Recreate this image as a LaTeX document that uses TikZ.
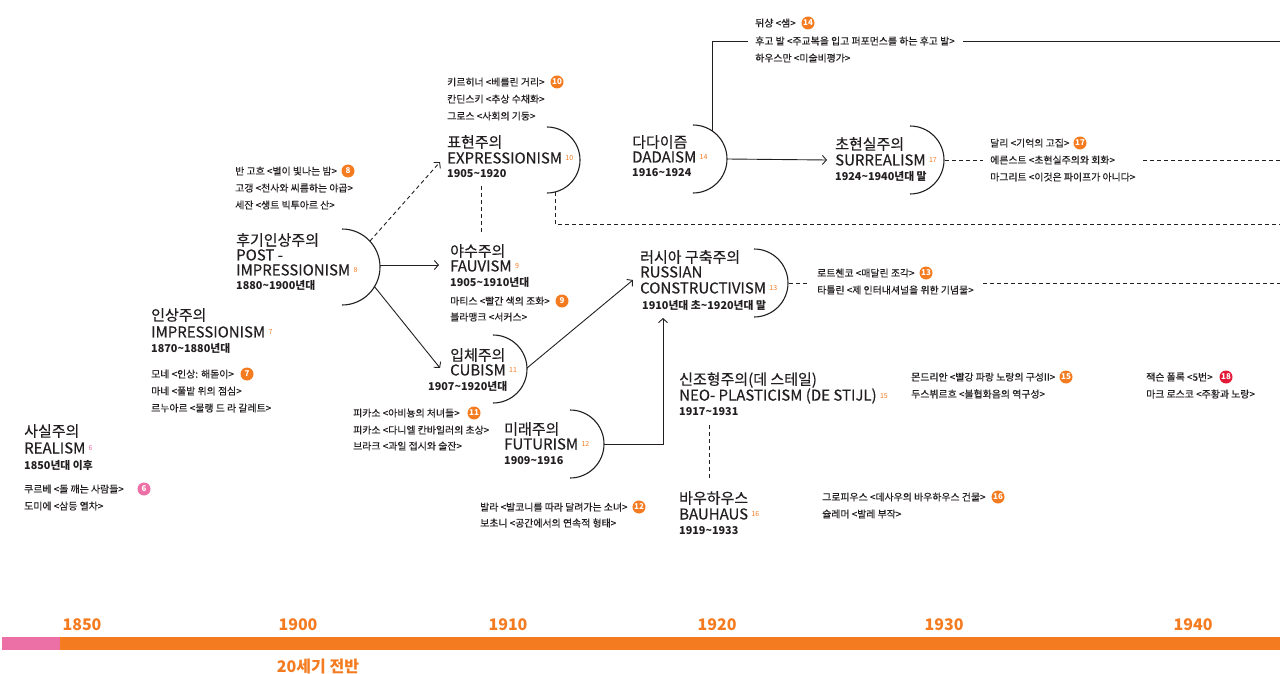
\documentclass[tikz,border=0pt]{standalone}
\usepackage{fontspec}
\setmainfont{Noto Sans CJK KR}
\newfontfamily\medfont{Noto Sans CJK KR}[FakeBold=0.35]
\usetikzlibrary{arrows.meta, positioning}
\definecolor{ink}{HTML}{231F20}
\definecolor{orng}{HTML}{F47B20}
\definecolor{pnk}{HTML}{EC6FA6}
\definecolor{redc}{HTML}{E31937}
\newcommand{\ts}{\textasciitilde}

\begin{document}
\begin{tikzpicture}[
        x=1pt, y=-1pt,
        ttl/.style={anchor=west, inner sep=0pt, text=ink, font=\medfont\fontsize{15}{15}\selectfont},
        yr/.style={anchor=west, inner sep=0pt, text=ink, font=\fontsize{10.8}{11}\selectfont\bfseries},
        work/.style={anchor=west, inner sep=0pt, text=ink, font=\medfont\fontsize{9.9}{9.9}\selectfont},
        refn/.style={right=3pt of #1, inner sep=0pt, text=orng, font=\fontsize{7}{7}\selectfont},
        badge/.style={circle, fill=orng, inner sep=0pt, minimum size=13pt, text=white, font=\fontsize{8}{8}\selectfont\bfseries},
        arcline/.style={draw=ink, line width=1.1pt},
        conn/.style={draw=ink, line width=0.9pt},
        arr/.style={conn, -{Straight Barb[length=4pt, width=9pt]}},
        dconn/.style={conn, dash pattern=on 4pt off 3pt},
        yearlbl/.style={inner sep=0pt, text=orng, font=\fontsize{16}{16}\selectfont\bfseries}
    ]
        \useasboundingbox (0,0) rectangle (1280,674);

        % Realism
        \node[ttl] (realko) at (24,431) {사실주의};
        \node[ttl] (realen) at (24,448) {REALISM};
        \node[refn=realen, text=pnk] (realn) {6};
        \node[yr] (realyr) at (24,465) {1850년대 이후};
        \node[work] (courbet) at (24,489) {쿠르베 <돌 깨는 사람들>};
        \node[badge, fill=pnk] (realb) at (144,489) {6};
        \node[work] (daumier) at (24,506) {도미에 <삼등 열차>};

        % Impressionism
        \node[ttl] (imprko) at (151,315) {인상주의};
        \node[ttl] (impren) at (151,332) {IMPRESSIONISM};
        \node[refn=impren] (imprn) {7};
        \node[yr] (impryr) at (151,348) {1870\ts1880년대};
        \node[work] (monet) at (151,374) {모네 <인상: 해돋이>};
        \node[badge] (imprb) at (247,374) {7};
        \node[work] (manet) at (151,391) {마네 <풀밭 위의 점심>};
        \node[work] (renoir) at (151,408) {르누아르 <물랭 드 라 갈레트>};

        % Post-impressionism
        \node[work] (gogh) at (235,171) {반 고흐 <별이 빛나는 밤>};
        \node[badge] (postb) at (348,171) {8};
        \node[work] (gauguin) at (235,188) {고갱 <천사와 씨름하는 야곱>};
        \node[work] (cezanne) at (235,205) {세잔 <생트 빅투아르 산>};
        \node[ttl] (postko) at (236,240) {후기인상주의};
        \node[ttl] (posten) at (236,255) {POST -};
        \node[ttl] (posten2) at (236,270) {IMPRESSIONISM};
        \node[refn=posten2] (postn) {8};
        \node[yr] (postyr) at (236,285) {1880\ts1900년대};
        \draw[arcline] (342,305) arc[start angle=-90, end angle=90, radius=38pt];
        \coordinate (post-ne) at (370,241);
        \coordinate (post-e) at (380,265);
        \coordinate (post-se) at (374,286);

        % Expressionism
        \node[work] (kirchner) at (447,82) {키르히너 <베를린 거리>};
        \node[badge] (exprb) at (557,82) {10};
        \node[work] (kandinsky) at (447,99) {칸딘스키 <추상 수채화>};
        \node[work] (grosz) at (447,116) {그로스 <사회의 기둥>};
        \node[ttl] (exprko) at (447,142) {표현주의};
        \node[ttl] (expren) at (447,158) {EXPRESSIONISM};
        \node[refn=expren] (exprn) {10};
        \node[yr] (expryr) at (447,174) {1905\ts1920};
        \draw[arcline] (547,193) arc[start angle=-90, end angle=90, radius=33pt];
        \coordinate (expr-in) at (440,162);
        \coordinate (expr-s) at (555,192);
        \coordinate (expr-sw) at (555,224);
        \coordinate (expr-out) at (1280,224);
        \coordinate (expr-down) at (481,186);

        % Fauvism
        \node[ttl] (fauvko) at (450,251) {야수주의};
        \node[ttl] (fauven) at (450,266) {FAUVISM};
        \node[refn=fauven] (fauvn) {9};
        \node[yr] (fauvyr) at (450,282) {1905\ts1910년대};
        \node[work] (matisse) at (450,301) {마티스 <빨간 색의 조화>};
        \node[badge] (fauvb) at (562,301) {9};
        \node[work] (vlaminck) at (450,317) {블라맹크 <서커스>};
        \coordinate (fauv-up) at (481,234);
        \coordinate (fauv-in) at (439,265);

        % Cubism
        \node[ttl] (cubko) at (450,355) {입체주의};
        \node[ttl] (cuben) at (450,370) {CUBISM};
        \node[refn=cuben] (cubn) {11};
        \node[yr] (cubyr) at (428,386) {1907\ts1920년대};
        \draw[arcline] (493,403) arc[start angle=-90, end angle=90, radius=34pt];
        \coordinate (cub-in) at (440,368);
        \coordinate (cub-e) at (527,368);
        \node[work] (picasso1) at (353,413) {피카소 <아비뇽의 처녀들>};
        \node[badge] (cubb) at (474,413) {11};
        \node[work] (picasso2) at (353,430) {피카소 <다니엘 칸바일러의 초상>};
        \node[work] (braque) at (353,446) {브라크 <과일 접시와 술잔>};

        % Futurism
        \node[ttl] (futko) at (504,429) {미래주의};
        \node[ttl] (futen) at (504,444) {FUTURISM};
        \node[refn=futen] (futn) {12};
        \node[yr] (futyr) at (504,461) {1909\ts1916};
        \draw[arcline] (570,478) arc[start angle=-90, end angle=90, radius=34pt];
        \coordinate (fut-e) at (604,444);
        \coordinate (fut-turn) at (663,444);
        \node[work] (balla) at (480,507) {발라 <발코니를 따라 달려가는 소녀>};
        \node[badge] (futb) at (639,507) {12};
        \node[work] (boccioni) at (480,523) {보초니 <공간에서의 연속적 형태>};

        % Russian constructivism
        \node[ttl] (russko) at (640,257) {러시아 구축주의};
        \node[ttl] (russen) at (640,272) {RUSSIAN};
        \node[ttl] (russen2) at (640,288) {CONSTRUCTIVISM};
        \node[refn=russen2] (russn) {13};
        \node[yr] (russyr) at (642,305) {1910년대 초\ts1920년대 말};
        \draw[arcline] (754,317) arc[start angle=-90, end angle=90, radius=34pt];
        \coordinate (russ-in) at (633,280);
        \coordinate (russ-bot) at (663,318);
        \coordinate (russ-e) at (789,283);
        \coordinate (russ-dash) at (809,283);
        \node[work] (rodchenko) at (817,273) {로트첸코 <매달린 조각>};
        \node[badge] (russb) at (926,273) {13};
        \node[work] (tatlin) at (817,290) {타틀린 <제 인터내셔널을 위한 기념물>};
        \coordinate (russ-dash2) at (983,283);
        \coordinate (russ-out) at (1280,283);

        % Dadaism
        \node[ttl] (dadako) at (632,142) {다다이즘};
        \node[ttl] (dadaen) at (632,157) {DADAISM};
        \node[refn=dadaen] (dadan) {14};
        \node[yr] (dadayr) at (632,173) {1916\ts1924};
        \draw[arcline] (693,193) arc[start angle=-90, end angle=90, radius=34pt];
        \coordinate (dada-top) at (712,131);
        \coordinate (dada-e) at (727,159);
        \node[work] (duchamp) at (755,23) {뒤샹 <샘>};
        \node[badge] (dadab) at (808,23) {14};
        \node[work] (ball) at (755,41) {후고 발 <주교복을 입고 퍼포먼스를 하는 후고 발>};
        \node[work] (hausmann) at (755,58) {하우스만 <미술비평가>};
        \coordinate (ball-in) at (748,41);
        \coordinate (ball-out) at (963,41);
        \coordinate (dada-out) at (1280,41);

        % Surrealism
        \node[ttl] (surrko) at (835,144) {초현실주의};
        \node[ttl] (surren) at (835,160) {SURREALISM};
        \node[refn=surren] (surrn) {17};
        \node[yr] (surryr) at (835,176) {1924\ts1940년대 말};
        \draw[arcline] (910,194) arc[start angle=-90, end angle=90, radius=34pt];
        \coordinate (surr-in) at (827,160);
        \coordinate (surr-e) at (945,160);
        \coordinate (surr-dash) at (983,160);
        \node[work] (dali) at (990,143) {달리 <기억의 고집>};
        \node[badge] (surrb) at (1080,143) {17};
        \node[work] (ernst) at (990,160) {에른스트 <초현실주의와 회화>};
        \node[work] (magritte) at (990,177) {마그리트 <이것은 파이프가 아니다>};
        \coordinate (surr-dash2) at (1143,160);
        \coordinate (surr-out) at (1280,160);

        % Neo-plasticism and Bauhaus
        \node[ttl] (neoko) at (679,380) {신조형주의(데 스테일)};
        \node[ttl] (neoen) at (679,396) {NEO- PLASTICISM (DE STIJL)};
        \node[refn=neoen] (neon) {15};
        \node[yr] (neoyr) at (679,412) {1917\ts1931};
        \coordinate (neo-down) at (709,425);
        \node[work] (mondrian) at (911,377) {몬드리안 <빨강 파랑 노랑의 구성II>};
        \node[badge] (neob) at (1066,377) {15};
        \node[work] (doesburg) at (911,394) {두스뷔르흐 <불협화음의 역구성>};
        \node[work] (pollock) at (1146,377) {잭슨 폴록 <5번>};
        \node[badge, fill=redc] (absb) at (1226,377) {18};
        \node[work] (rothko) at (1146,394) {마크 로스코 <주황과 노랑>};
        \node[ttl] (bauko) at (679,498) {바우하우스};
        \node[ttl] (bauen) at (679,514) {BAUHAUS};
        \node[refn=bauen] (baun) {16};
        \node[yr] (bauyr) at (679,531) {1919\ts1933};
        \coordinate (bau-up) at (709,480);
        \node[work] (gropius) at (822,497) {그로피우스 <데사우의 바우하우스 건물>};
        \node[badge] (baub) at (998,497) {16};
        \node[work] (schlemmer) at (822,514) {슐레머 <발레 부작>};

        % Connectors
        \draw[arr, dash pattern=on 4pt off 3pt] (post-ne) -- (expr-in);
        \draw[arr] (post-e) -- (fauv-in);
        \draw[arr] (post-se) -- (cub-in);
        \draw[dconn] (expr-down) -- (fauv-up);
        \draw[dconn] (expr-s) -- (expr-sw) -- (expr-out);
        \draw[arr] (cub-e) -- (russ-in);
        \draw[arr] (fut-e) -- (fut-turn) -- (russ-bot);
        \draw[dconn] (russ-e) -- (russ-dash);
        \draw[dconn] (russ-dash2) -- (russ-out);
        \draw[conn] (dada-top) |- (ball-in);
        \draw[conn] (ball-out) -- (dada-out);
        \draw[arr] (dada-e) -- (surr-in);
        \draw[dconn] (surr-e) -- (surr-dash);
        \draw[dconn] (surr-dash2) -- (surr-out);
        \draw[dconn] (neo-down) -- (bau-up);

        % Timeline
        \fill[pnk] (2,637) rectangle (60,650);
        \fill[orng] (60,637) rectangle (1280,650);
        \node[yearlbl] (y1850) at (82,625) {1850};
        \node[yearlbl] (y1900) at (298,625) {1900};
        \node[yearlbl] (y1910) at (508,625) {1910};
        \node[yearlbl] (y1920) at (717,625) {1920};
        \node[yearlbl] (y1930) at (944,625) {1930};
        \node[yearlbl] (y1940) at (1193,625) {1940};
        \node[yearlbl] (early20) at (318,666) {20세기 전반};
    \end{tikzpicture}
\end{document}
